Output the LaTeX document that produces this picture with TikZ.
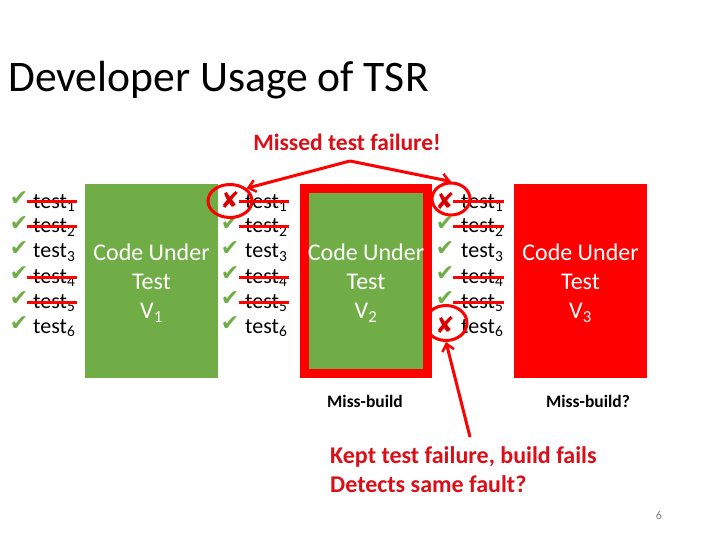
\documentclass[tikz,border=0pt]{standalone}
\usepackage{fontspec}
\setmainfont{Carlito}
\newfontfamily\symf{DejaVu Sans}
\usetikzlibrary{arrows.meta,shapes.geometric}
\definecolor{gr}{HTML}{70AD47}
\definecolor{rd}{HTML}{FF0000}
\definecolor{tr}{RGB}{218,14,22}
\definecolor{xr}{RGB}{215,0,0}
\tikzset{
  testlbl/.style={anchor=base west,inner sep=0pt,font=\fontsize{22}{26}\selectfont},
  chk/.style={inner sep=0pt,text=gr,font=\symf\fontsize{22}{26}\selectfont},
  crs/.style={inner sep=0pt,text=xr,text height=15pt,text depth=0pt,font=\symf\fontsize{23}{26}\selectfont},
  strike/.style={draw=rd,line width=3pt},
  cut/.style={inner sep=0pt,align=center,text=white,font=\fontsize{24}{29}\selectfont},
  ring/.style={ellipse,draw=rd,line width=3pt,inner sep=0pt},
  redarrow/.style={draw=rd,line width=3pt,-{Straight Barb[length=7pt,width=12pt,line width=2.5pt]}},
  buildlbl/.style={inner sep=0pt,font=\bfseries\fontsize{17.5}{20}\selectfont},
  keptlbl/.style={anchor=base west,inner sep=0pt,text=tr,font=\bfseries\fontsize{24}{28}\selectfont},
}
\begin{document}
\begin{tikzpicture}[x=1pt,y=-1pt]
\useasboundingbox (0,0) rectangle (720,540);
% title
\node[anchor=base west,inner sep=0pt,font=\fontsize{43.6}{50}\selectfont] (title) at (8,92) {Developer Usage of TSR};
% boxes
\node[fill=gr,minimum width=133pt,minimum height=194pt,inner sep=0pt] (b1) at (151.5,281) {};
\node[fill=gr,draw=rd,line width=9pt,minimum width=123pt,minimum height=185pt,inner sep=0pt] (b2) at (366,281) {};
\node[fill=rd,minimum width=133pt,minimum height=194pt,inner sep=0pt] (b3) at (580.5,281) {};
\node[cut] (t1) at (151.5,283) {Code Under\\Test\\V\textsubscript{1}};
\node[cut] (t2) at (366,283) {Code Under\\Test\\V\textsubscript{2}};
\node[cut] (t3) at (580.5,283) {Code Under\\Test\\V\textsubscript{3}};
% list 1
\foreach \i/\y in {1/202,2/227,3/252,4/277,5/302,6/327}{
  \node[testlbl] (p\i) at (33,\y+6) {test\textsubscript{\i}};
  \node[chk] (pc\i) at (19,\y-3) {✔};
}
% list 2
\foreach \i/\y in {1/202,2/227,3/252,4/277,5/302,6/327}{
  \node[testlbl] (q\i) at (245,\y+6) {test\textsubscript{\i}};
}
\node[crs] (qx1) at (230,201) {✘};
\foreach \i/\y in {2/227,3/252,4/277,5/302,6/327}{
  \node[chk] (qc\i) at (230,\y-3) {✔};
}
% list 3
\foreach \i/\y in {1/202,2/227,3/252,4/277,5/302,6/327}{
  \node[testlbl] (r\i) at (461,\y+6) {test\textsubscript{\i}};
}
\node[crs] (rx1) at (445,202) {✘};
\node[crs] (rx6) at (445,326) {✘};
\foreach \i/\y in {2/227,3/252,4/277,5/302}{
  \node[chk] (rc\i) at (445,\y-3) {✔};
}
% strikes
\foreach \y in {202,227,277,302}{
  \draw[strike] (27,\y) -- (77,\y);
  \draw[strike] (239,\y) -- (289,\y);
  \draw[strike] (453,\y) -- (504,\y);
}
% rings
\node[ring,minimum width=44pt,minimum height=33pt] (ring2) at (230,201) {};
\node[ring,minimum width=38pt,minimum height=32pt] (ring3a) at (451,199) {};
\node[ring,minimum width=42pt,minimum height=35pt] (ring3b) at (446,323) {};
% labels
\node[inner sep=0pt,text=tr,font=\bfseries\fontsize{23.5}{26}\selectfont] (missed) at (347,142) {Missed test failure!};
\coordinate (apex) at (350,161);
\draw[redarrow] (apex) -- (ring2.north east);
\draw[redarrow] (apex) -- (ring3a.north);
\node[buildlbl] (mb2) at (365,401) {Miss-build};
\node[buildlbl] (mb3) at (588,401) {Miss-build?};
\node[keptlbl] (kept1) at (330,463) {Kept test failure, build fails};
\node[keptlbl] (kept2) at (330,492) {Detects same fault?};
\coordinate (kepttop) at (470,437);
\draw[redarrow] (kepttop) -- (ring3b.south);
\node[inner sep=0pt,text=gray,font=\fontsize{12}{14}\selectfont] (pg) at (659,515) {6};
\end{tikzpicture}
\end{document}
